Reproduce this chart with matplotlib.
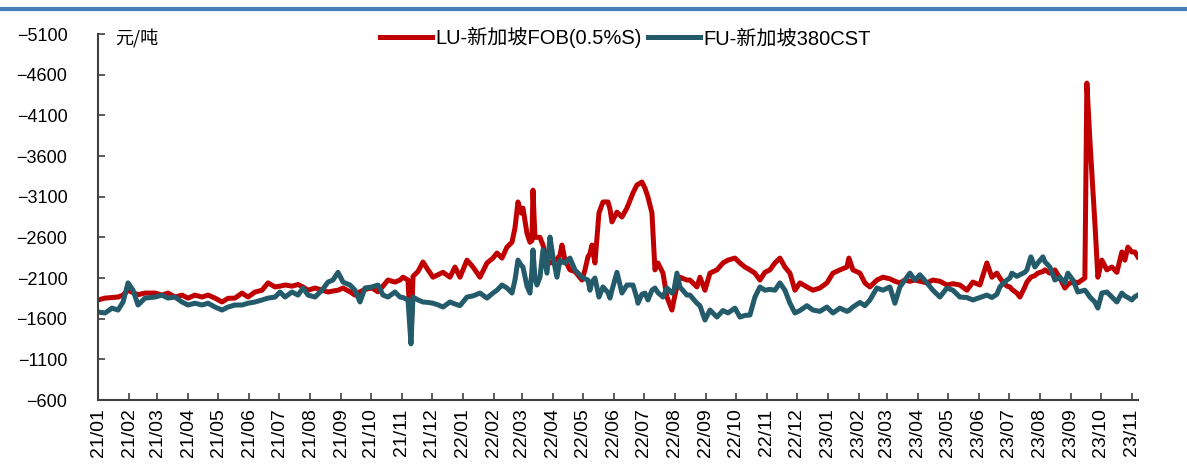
import matplotlib
matplotlib.use('Agg')
from matplotlib import pyplot as plt
import matplotlib.dates as mdates
from matplotlib.lines import Line2D
import pandas as pd

plt.rcParams['font.family'] = ['Liberation Sans', 'Noto Sans CJK SC', 'DejaVu Sans']

# 价差数据 (元/吨)
dates = [
    "2021-01-01", "2021-01-08", "2021-01-15", "2021-01-21", "2021-01-26", "2021-01-31", "2021-02-05", "2021-02-10", "2021-02-17", "2021-02-27",
    "2021-03-06", "2021-03-12", "2021-03-19", "2021-03-26", "2021-04-01", "2021-04-08", "2021-04-15", "2021-04-21", "2021-04-28", "2021-05-05",
    "2021-05-11", "2021-05-18", "2021-05-25", "2021-05-31", "2021-06-07", "2021-06-14", "2021-06-20", "2021-06-27", "2021-07-02", "2021-07-07",
    "2021-07-14", "2021-07-20", "2021-07-25", "2021-07-30", "2021-08-06", "2021-08-13", "2021-08-19", "2021-08-24", "2021-08-29", "2021-09-03",
    "2021-09-10", "2021-09-15", "2021-09-20", "2021-09-25", "2021-10-02", "2021-10-08", "2021-10-13", "2021-10-18", "2021-10-25", "2021-10-30",
    "2021-11-02", "2021-11-07", "2021-11-10", "2021-11-12", "2021-11-17", "2021-11-22", "2021-11-27", "2021-12-02", "2021-12-07", "2021-12-12",
    "2021-12-19", "2021-12-24", "2021-12-29",
    "2022-01-05", "2022-01-11", "2022-01-18", "2022-01-25", "2022-01-31", "2022-02-04", "2022-02-09", "2022-02-14", "2022-02-19", "2022-02-22",
    "2022-02-25", "2022-02-28", "2022-03-02", "2022-03-06", "2022-03-09", "2022-03-11", "2022-03-12", "2022-03-14", "2022-03-16", "2022-03-19",
    "2022-03-22", "2022-03-26", "2022-03-29", "2022-04-01", "2022-04-05", "2022-04-08", "2022-04-10", "2022-04-13", "2022-04-18", "2022-04-23",
    "2022-04-30", "2022-05-03", "2022-05-06", "2022-05-08", "2022-05-10", "2022-05-13", "2022-05-17", "2022-05-21", "2022-05-26", "2022-05-28",
    "2022-05-30", "2022-06-04", "2022-06-09", "2022-06-14", "2022-06-20", "2022-06-24", "2022-06-25", "2022-06-29", "2022-07-02", "2022-07-05",
    "2022-07-09", "2022-07-12", "2022-07-15", "2022-07-20", "2022-07-24", "2022-07-29", "2022-07-31", "2022-08-03", "2022-08-06", "2022-08-13",
    "2022-08-16", "2022-08-23", "2022-08-26", "2022-08-31", "2022-09-05", "2022-09-12", "2022-09-18", "2022-09-23", "2022-09-30", "2022-10-05",
    "2022-10-10", "2022-10-15", "2022-10-20", "2022-10-25", "2022-10-30", "2022-11-04", "2022-11-09", "2022-11-14", "2022-11-19", "2022-11-24",
    "2022-11-29", "2022-12-04", "2022-12-11", "2022-12-17", "2022-12-24", "2022-12-31",
    "2023-01-06", "2023-01-13", "2023-01-20", "2023-01-22", "2023-01-26", "2023-02-02", "2023-02-07", "2023-02-12", "2023-02-19", "2023-02-25",
    "2023-03-04", "2023-03-09", "2023-03-14", "2023-03-19", "2023-03-24", "2023-03-29", "2023-04-03", "2023-04-10", "2023-04-16", "2023-04-23",
    "2023-04-30", "2023-05-06", "2023-05-13", "2023-05-20", "2023-05-26", "2023-06-02", "2023-06-09", "2023-06-14", "2023-06-19", "2023-06-22",
    "2023-06-25", "2023-06-29", "2023-07-02", "2023-07-04", "2023-07-09", "2023-07-12", "2023-07-17", "2023-07-19", "2023-07-23", "2023-07-27",
    "2023-07-30", "2023-08-04", "2023-08-06", "2023-08-11", "2023-08-16", "2023-08-21", "2023-08-26", "2023-08-29", "2023-09-03", "2023-09-08",
    "2023-09-15", "2023-09-17", "2023-09-20", "2023-09-25", "2023-09-28", "2023-10-02", "2023-10-07", "2023-10-12", "2023-10-17", "2023-10-22",
    "2023-10-25", "2023-10-28", "2023-11-01", "2023-11-04", "2023-11-07",
]

lu = [
    -1830, -1853, -1860, -1866, -1890, -1950, -1920, -1895, -1915, -1915,
    -1890, -1915, -1866, -1890, -1853, -1890, -1866, -1890, -1853, -1805,
    -1850, -1853, -1915, -1866, -1928, -1950, -2040, -1990, -2000, -2014,
    -2000, -2020, -1990, -1950, -1977, -1950, -1928, -1940, -1950, -1977,
    -1930, -1890, -1930, -1960, -1977, -1930, -2000, -2075, -2050, -2075,
    -2110, -2075, -1380, -2120, -2180, -2297, -2200, -2110, -2140, -2170,
    -2110, -2235, -2110,
    -2320, -2235, -2110, -2285, -2345, -2407, -2345, -2480, -2540, -2715,
    -3035, -2900, -2960, -2650, -2540, -2560, -3180, -2600, -2600, -2600,
    -2505, -2320, -2285, -2300, -2330, -2380, -2505, -2320, -2200, -2180,
    -2075, -2200, -2360, -2400, -2505, -2285, -2900, -3035, -3035, -2950,
    -2790, -2910, -2850, -2960, -3145, -3245, -3250, -3280, -3205, -3095,
    -2900, -2200, -2285, -2160, -1866, -1706, -1830, -2000, -2110, -2075,
    -2075, -1990, -2110, -1950, -2160, -2200, -2285, -2320, -2345, -2285,
    -2235, -2200, -2160, -2075, -2170, -2200, -2285, -2345, -2235, -2160,
    -1950, -2040, -1990, -1950, -1977, -2040,
    -2160, -2200, -2235, -2345, -2200, -2160, -2040, -1990, -2075, -2110,
    -2090, -2060, -2040, -2075, -2060, -2075, -2060, -2040, -2075, -2060,
    -2014, -2030, -2014, -1950, -2050, -2014, -2285, -2110, -2160, -2100,
    -2050, -2000, -1990, -1960, -1915, -1866, -1990, -2050, -2110, -2130,
    -2160, -2180, -2200, -2160, -2200, -2100, -1977, -2020, -2060, -2040,
    -2100, -4497, -3800, -2780, -2110, -2320, -2200, -2235, -2170, -2420,
    -2320, -2480, -2420, -2420, -2360,
]

fu = [
    -1682, -1670, -1730, -1706, -1805, -2040, -1950, -1768, -1853, -1866,
    -1890, -1853, -1866, -1805, -1768, -1790, -1768, -1790, -1743, -1706,
    -1743, -1768, -1768, -1790, -1805, -1830, -1853, -1866, -1928, -1866,
    -1928, -1890, -1977, -1890, -1866, -1950, -2050, -2075, -2170, -2050,
    -2014, -1950, -1805, -1977, -1990, -2014, -1890, -1866, -1928, -1866,
    -1860, -1830, -1290, -1866, -1830, -1805, -1800, -1790, -1770, -1743,
    -1805, -1780, -1760,
    -1866, -1880, -1915, -1853, -1915, -1950, -2014, -1977, -1915, -2075,
    -2320, -2260, -2235, -2000, -1915, -2200, -2445, -2100, -2014, -2110,
    -2445, -2160, -2604, -2360, -2110, -2320, -2300, -2285, -2345, -2200,
    -2110, -2090, -2075, -1950, -2050, -2100, -1866, -1990, -1920, -1853,
    -1950, -2170, -1915, -2014, -2014, -1850, -1790, -1900, -1915, -1830,
    -1950, -1977, -1920, -1866, -1977, -1915, -1950, -2160, -1990, -1890,
    -1890, -1790, -1760, -1583, -1706, -1620, -1700, -1670, -1730, -1620,
    -1640, -1645, -1866, -1990, -1950, -1960, -1950, -2040, -1950, -1790,
    -1670, -1700, -1760, -1706, -1690, -1743,
    -1670, -1730, -1690, -1700, -1743, -1800, -1760, -1830, -1977, -1950,
    -1990, -1790, -1990, -2075, -2160, -2075, -2140, -2040, -1950, -1866,
    -1977, -1950, -1866, -1860, -1830, -1860, -1890, -1860, -1900, -1990,
    -2030, -2075, -2100, -2160, -2120, -2140, -2170, -2200, -2360, -2235,
    -2285, -2360, -2300, -2235, -2075, -2110, -2040, -2160, -2075, -1928,
    -1950, -1920, -1866, -1805, -1730, -1915, -1928, -1866, -1805, -1915,
    -1880, -1860, -1830, -1870, -1890,
]

series_names = ["LU-新加坡FOB(0.5%S)", "FU-新加坡380CST"]
series_colors = ["#C00000", "#235B6A"]
yticks = list(range(-5100, -599, 500))

x = pd.to_datetime(dates)

fig = plt.figure(figsize=(11.87, 4.69), dpi=100)
ax = fig.add_axes([0.0826, 0.1471, 0.876, 0.7804])

ax.plot(x, lu, color=series_colors[0], lw=3.6, solid_joinstyle='round', label=series_names[0])
ax.plot(x, fu, color=series_colors[1], lw=3.6, solid_joinstyle='round', label=series_names[1])

ax.set_ylim(-600, -5100)
ax.set_yticks(yticks)
ax.set_xlim(pd.Timestamp("2021-01-01"), x[-1])
ax.xaxis.set_major_locator(mdates.MonthLocator())
ax.xaxis.set_major_formatter(mdates.DateFormatter('%y/%m'))

for lab in ax.get_xticklabels():
    lab.set_rotation(90)

ax.spines['top'].set_visible(False)
ax.spines['right'].set_visible(False)
ax.spines['left'].set_color('#404040')
ax.spines['bottom'].set_color('#404040')
ax.spines['left'].set_linewidth(1.5)
ax.spines['bottom'].set_linewidth(1.5)
ax.tick_params(axis='both', direction='in', length=5, width=1.2, color='#404040',
               labelcolor='black')
ax.tick_params(axis='y', pad=22, labelsize=13)
ax.tick_params(axis='x', pad=6, labelsize=14)

ax.text(0.016, 0.99, "元/吨", transform=ax.transAxes, ha='left', va='center',
        fontsize=13, family=['Noto Sans CJK SC'])

ax.legend(loc='center', bbox_to_anchor=(0.507, 0.99), ncol=2, frameon=False,
          fontsize=14.5, handlelength=2.6, handletextpad=0.15, columnspacing=0.3)

# blue rule across the top of the page
fig.add_artist(Line2D([0, 1], [0.981, 0.981], transform=fig.transFigure,
                      color='#4A7EBB', lw=3))

plt.savefig('out.png', dpi=100)
